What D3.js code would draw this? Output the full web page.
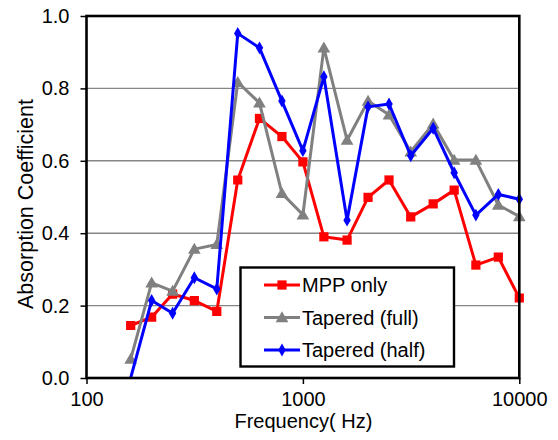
<!DOCTYPE html>
<html>
<head>
<meta charset="utf-8">
<script src="https://cdn.jsdelivr.net/npm/d3@7"></script>
<style>
  html, body { margin: 0; padding: 0; background: #fff; }
  svg { display: block; font-family: "Liberation Sans", Arial, sans-serif; }
</style>
</head>
<body>
<svg id="chart" width="558" height="440"></svg>
<script>
// One-third octave band centre frequencies (Hz)
const frequencies = [160, 200, 250, 315, 400, 500, 630, 800, 1000, 1250, 1600,
                     2000, 2500, 3150, 4000, 5000, 6300, 8000, 10000];

// Absorption coefficient per band
const mppOnly = [0.145, 0.168, 0.232, 0.214, 0.184, 0.547, 0.717, 0.667, 0.597, 0.390, 0.381,
                 0.499, 0.547, 0.445, 0.481, 0.519, 0.312, 0.334, 0.221];
const taperedFull = [0.052, 0.263, 0.240, 0.356, 0.369, 0.817, 0.760, 0.510, 0.451, 0.912, 0.657,
                     0.765, 0.727, 0.625, 0.702, 0.602, 0.602, 0.478, 0.446];
const taperedHalf = [0.0, 0.214, 0.179, 0.277, 0.246, 0.952, 0.912, 0.765, 0.628, 0.832, 0.436,
                     0.749, 0.757, 0.614, 0.690, 0.567, 0.450, 0.507, 0.494];

const seriesNames = ["MPP only", "Tapered (full)", "Tapered (half)"];
const xTicks = [100, 1000, 10000];
const yTicks = [0, 0.2, 0.4, 0.6, 0.8, 1.0];
const xTitle = "Frequency( Hz)";
const yTitle = "Absorption Coefficient";

const series = [
  { name: seriesNames[0], values: mppOnly,     color: "#ff0000", marker: "square" },
  { name: seriesNames[1], values: taperedFull, color: "#808080", marker: "triangle" },
  { name: seriesNames[2], values: taperedHalf, color: "#0000ff", marker: "diamond" }
];

const svg = d3.select("#chart");
const plot = { left: 86.5, right: 519.3, top: 16, bottom: 378 };

const x = d3.scaleLog().domain([100, 10000]).range([plot.left, plot.right]);
const y = d3.scaleLinear().domain([0, 1]).range([plot.bottom, plot.top]);

// Marks may spill sideways past the frame but not below the value axis
svg.append("defs").append("clipPath").attr("id", "plotClip")
  .append("rect")
  .attr("x", plot.left - 20).attr("y", plot.top - 20)
  .attr("width", plot.right - plot.left + 40).attr("height", plot.bottom - plot.top + 20);

// Horizontal gridlines
svg.append("g")
  .selectAll("line")
  .data(yTicks.filter(v => v > 0 && v < 1))
  .join("line")
  .attr("x1", plot.left).attr("x2", plot.right)
  .attr("y1", d => y(d)).attr("y2", d => y(d))
  .attr("stroke", "#868686").attr("stroke-width", 1.4);

// Marker symbols
const symbolFor = {
  square: d3.symbol().type(d3.symbolSquare).size(85),
  triangle: d3.symbol().type(d3.symbolTriangle).size(70),
  diamond: d3.symbol().type(d3.symbolDiamond).size(48)
};

const line = d3.line().x((d, i) => x(frequencies[i])).y(d => y(d));

const dataLayer = svg.append("g").attr("clip-path", "url(#plotClip)");
series.forEach(s => {
  const g = dataLayer.append("g");
  g.append("path")
    .attr("d", line(s.values))
    .attr("fill", "none")
    .attr("stroke", s.color)
    .attr("stroke-width", 3)
    .attr("stroke-linejoin", "round");
  g.selectAll("path.mk")
    .data(s.values.map((v, i) => [frequencies[i], v]).filter(d => d[1] > 0))
    .join("path")
    .attr("class", "mk")
    .attr("d", symbolFor[s.marker]())
    .attr("transform", d => `translate(${x(d[0])},${y(d[1]) + (s.marker === "triangle" ? 1 : 0)})`)
    .attr("fill", s.color);
});

// Y axis ticks and labels
const yAxis = d3.axisLeft(y)
  .tickValues(yTicks)
  .tickFormat(d3.format(".1f"))
  .tickSize(6)
  .tickPadding(11);
const gy = svg.append("g").attr("transform", `translate(${plot.left},0)`).call(yAxis);
gy.select(".domain").remove();
gy.selectAll(".tick line").attr("stroke", "#000").attr("stroke-width", 1.5);
gy.selectAll(".tick text").attr("font-size", 20).attr("fill", "#000")
  .attr("font-family", "Liberation Sans, Arial, sans-serif");

// X axis ticks and labels
const xAxis = d3.axisBottom(x)
  .tickValues(xTicks)
  .tickFormat(d3.format("d"))
  .tickSize(6)
  .tickPadding(8);
const gx = svg.append("g").attr("transform", `translate(0,${plot.bottom})`).call(xAxis);
gx.select(".domain").remove();
gx.selectAll(".tick line").attr("stroke", "#000").attr("stroke-width", 1.5);
gx.selectAll(".tick text").attr("font-size", 20).attr("fill", "#000")
  .attr("font-family", "Liberation Sans, Arial, sans-serif");

// Plot area frame
svg.append("rect")
  .attr("x", plot.left).attr("y", plot.top)
  .attr("width", plot.right - plot.left).attr("height", plot.bottom - plot.top)
  .attr("fill", "none").attr("stroke", "#000").attr("stroke-width", 2.6);

// Axis titles
svg.append("text")
  .attr("x", (plot.left + plot.right) / 2 + 0.5).attr("y", 428)
  .attr("text-anchor", "middle").attr("font-size", 20)
  .text(xTitle);

svg.append("text")
  .attr("transform", `translate(33,${(plot.top + plot.bottom) / 2 + 7}) rotate(-90)`)
  .attr("text-anchor", "middle").attr("font-size", 21.5)
  .text(yTitle);

// Legend
const legend = svg.append("g");
legend.append("rect")
  .attr("x", 240.5).attr("y", 267.5).attr("width", 213.5).attr("height", 99)
  .attr("fill", "#fff").attr("stroke", "#000").attr("stroke-width", 2.4);
series.forEach((s, i) => {
  const cy = 285 + i * 32.5;
  legend.append("line")
    .attr("x1", 264).attr("x2", 300).attr("y1", cy).attr("y2", cy)
    .attr("stroke", s.color).attr("stroke-width", 3);
  legend.append("path")
    .attr("d", symbolFor[s.marker]())
    .attr("transform", `translate(282,${cy + (s.marker === "triangle" ? 1 : 0)})`)
    .attr("fill", s.color);
  legend.append("text")
    .attr("x", 302).attr("y", cy + 7)
    .attr("font-size", 20)
    .text(s.name);
});
</script>
</body>
</html>
